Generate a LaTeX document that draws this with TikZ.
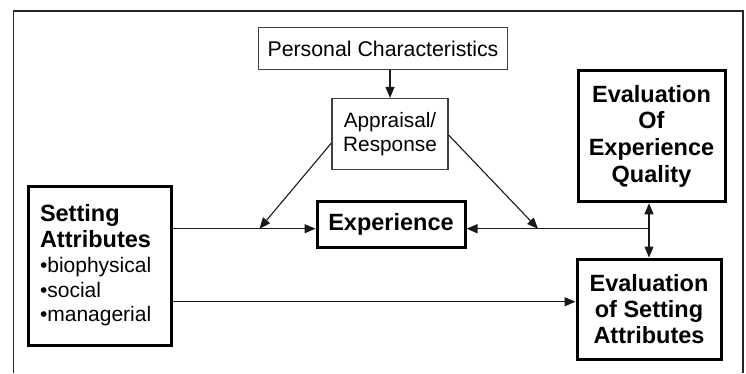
\documentclass[tikz,border=0pt]{standalone}
\usepackage{fontspec}
\setmainfont{Liberation Sans}
\usetikzlibrary{arrows.meta,calc}
\begin{document}
\begin{tikzpicture}[x=1pt,y=-1pt,
  thinbox/.style={draw=black!75,line width=1.2pt,inner sep=0pt,align=center,
    font=\fontsize{20.8}{23.5}\selectfont},
  thickbox/.style={draw=black,line width=3pt,inner sep=0pt,align=center,
    font=\fontsize{23.5}{26.8}\selectfont\bfseries},
  conn/.style={line width=1.1pt,draw=black!90,-{Triangle[length=11pt,width=9pt]}}]
\useasboundingbox (0,0) rectangle (746,373);
\fill[white] (0,0) rectangle (746,373);
% frame
\draw[line width=1.5pt,black!85] (13.5,373) -- (13.5,11) -- (743,11) -- (743,373);
% nodes
\node[thinbox,minimum width=249pt,minimum height=42pt,font=\fontsize{21.3}{24}\selectfont] (pc) at (383,48.8) {Personal Characteristics};
\node[thinbox,minimum width=116pt,minimum height=71pt] (app) at (390,134) {Appraisal/\\Response};
\node[thickbox,minimum width=148pt,minimum height=46pt,font=\fontsize{23.5}{26}\selectfont\bfseries] (exp) at (391,224) {Experience};
\node[thickbox,minimum width=143pt,minimum height=159pt,align=left,text width=120pt] (sa) at (100,265.5)
  {Setting\\[-1pt]Attributes\\[-2pt]{\mdseries\fontsize{21}{26}\selectfont\textbullet biophysical}\\[-2pt]{\mdseries\fontsize{21}{26}\selectfont\textbullet social}\\[-2pt]{\mdseries\fontsize{21}{26}\selectfont\textbullet managerial}};
\node[thickbox,minimum width=147pt,minimum height=131pt] (eeq) at (651.5,136.3) {Evaluation\\Of\\Experience\\Quality};
\node[thickbox,minimum width=144pt,minimum height=100pt] (esa) at (649,309) {Evaluation\\[-1pt]of Setting\\[-1pt]Attributes};
% junction coordinates
\coordinate (m1) at (259.5,228.7);
\coordinate (m2) at (538,228.7);
\coordinate (j) at (649,228.7);
\coordinate (ay1) at (0,143);
\coordinate (ay2) at (0,135);
% connectors
\draw[conn] (app.north |- pc.south) -- (app.north);
\draw[conn] (app.west |- ay1) -- (m1);
\draw[conn] (app.east |- ay2) -- (m2);
\draw[conn] (sa.east |- j) -- (exp.west |- j);
\draw[conn] (j) -- (exp.east |- j);
\draw[conn] (j) -- (j |- eeq.south);
\draw[conn] (j) -- (j |- esa.north);
\draw[conn] ($(sa.east)+(0,36.2)$) -- ($(esa.west)+(0,-7.3)$);
\end{tikzpicture}
\end{document}
